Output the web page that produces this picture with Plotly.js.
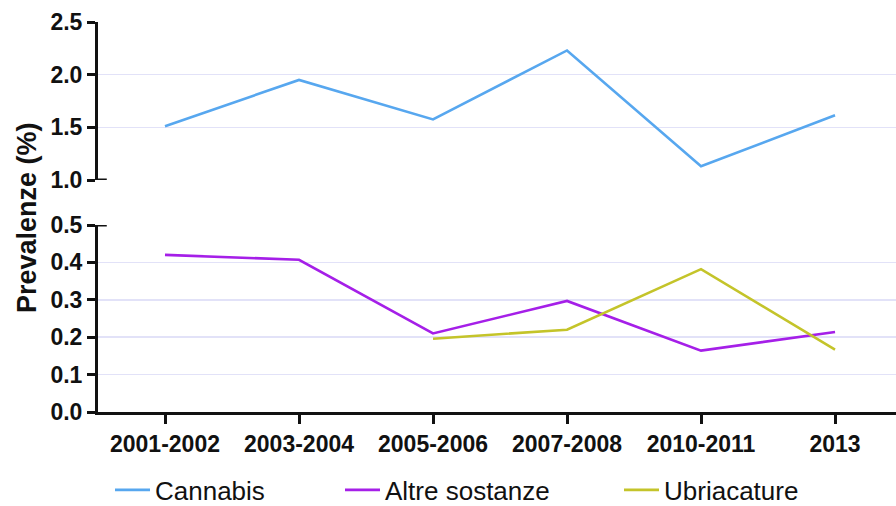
<!DOCTYPE html>
<html>
<head>
<meta charset="utf-8">
<script src="https://cdn.plot.ly/plotly-3.0.1.min.js"></script>
<style>html,body{margin:0;padding:0;background:#fff;}#chart{width:896px;height:506px;}</style>
</head>
<body>
<div id="chart"></div>
<script>
const categories = ["2001-2002", "2003-2004", "2005-2006", "2007-2008", "2010-2011", "2013"];
const cannabis = [1.51, 1.95, 1.575, 2.23, 1.13, 1.615];
const altreSostanze = [0.42, 0.407, 0.21, 0.297, 0.164, 0.214];
const ubriacature = [null, null, 0.196, 0.22, 0.382, 0.167];
const seriesNames = ["Cannabis", "Altre sostanze", "Ubriacature"];
const lowerTicks = [0.0, 0.1, 0.2, 0.3, 0.4, 0.5];
const upperTicks = [1.0, 1.5, 2.0, 2.5];
const yTitle = "Prevalenze (%)";

const FONT = "Arial, 'Liberation Sans', sans-serif";
const gridColor = "#e2e2f8";

const traces = [
  {x: categories, y: cannabis, name: seriesNames[0], type: "scatter", mode: "lines",
   line: {color: "#57a7ef", width: 2.6}, yaxis: "y2", legend: "legend"},
  {x: categories, y: altreSostanze, name: seriesNames[1], type: "scatter", mode: "lines",
   line: {color: "#a51fe8", width: 2.6}, yaxis: "y", legend: "legend2"},
  {x: categories, y: ubriacature, name: seriesNames[2], type: "scatter", mode: "lines",
   line: {color: "#c4c42a", width: 2.6}, yaxis: "y", connectgaps: false, legend: "legend3"}
];

const L = 98, W = 798;
const plotH = 506 - 22 - 94;
const lowerTop = (412 - 225) / plotH;
const upperBottom = (412 - 180) / plotH;
const px = v => (v - L) / W;
const legY = -(490 - 412) / plotH;

const axisCommon = {
  showline: true, linecolor: "#111", linewidth: 3,
  ticks: "outside", ticklen: 8, tickwidth: 3, tickcolor: "#111",
  showgrid: true, gridcolor: gridColor, gridwidth: 1.5,
  zeroline: false,
  tickfont: {family: FONT, size: 23, color: "#111", weight: "bold"},
  tickformat: ".1f", fixedrange: true
};

const legendBase = {
  orientation: "h", xanchor: "left", y: legY, yanchor: "middle",
  font: {family: FONT, size: 26, color: "#111"}, itemwidth: 35,
  bgcolor: "rgba(0,0,0,0)", borderwidth: 0
};

const layout = {
  width: 896, height: 506,
  margin: {l: L, r: 0, t: 22, b: 94, autoexpand: false},
  paper_bgcolor: "#fff", plot_bgcolor: "#fff",
  showlegend: true,
  legend: Object.assign({}, legendBase, {x: px(110)}),
  legend2: Object.assign({}, legendBase, {x: px(340)}),
  legend3: Object.assign({}, legendBase, {x: px(619)}),
  xaxis: {
    type: "category", range: [-0.5, 5.455],
    showline: true, linecolor: "#111", linewidth: 3,
    ticks: "outside", ticklen: 9, tickwidth: 3, tickcolor: "#111",
    showgrid: false, zeroline: false,
    tickfont: {family: FONT, size: 23, color: "#111", weight: "bold"},
    anchor: "y", fixedrange: true
  },
  yaxis: Object.assign({}, axisCommon, {
    domain: [0, lowerTop], range: [0, 0.5], tickvals: lowerTicks, anchor: "x"
  }),
  yaxis2: Object.assign({}, axisCommon, {
    domain: [upperBottom, 1], range: [1.0, 2.5], tickvals: upperTicks, anchor: "x"
  }),
  annotations: [{
    text: yTitle, textangle: -90, xref: "paper", yref: "paper",
    x: px(27), y: (412 - 218) / plotH, xanchor: "center", yanchor: "middle", showarrow: false,
    font: {family: FONT, size: 27, color: "#111", weight: "bold"}
  }],
  shapes: [
    {type: "line", xref: "paper", yref: "y2", x0: 0, x1: 0.011, y0: 1.0, y1: 1.0,
     line: {color: "#111", width: 3}},
    {type: "line", xref: "paper", yref: "y", x0: 0, x1: 0.011, y0: 0.5, y1: 0.5,
     line: {color: "#111", width: 3}}
  ]
};

Plotly.newPlot("chart", traces, layout, {displayModeBar: false, staticPlot: true});
</script>
</body>
</html>
